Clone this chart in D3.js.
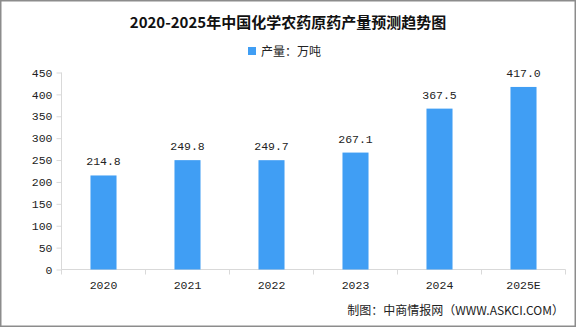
<!DOCTYPE html>
<html><head><meta charset="utf-8">
<script src="https://cdn.jsdelivr.net/npm/d3@7"></script>
<style>body{margin:0;background:#fff}svg{display:block}</style>
</head><body>
<script>
const categories = ["2020","2021","2022","2023","2024","2025E"];
const values = [214.8, 249.8, 249.7, 267.1, 367.5, 417.0];
const yTicks = [0,50,100,150,200,250,300,350,400,450];
const title = "2020-2025年中国化学农药原药产量预测趋势图";
const legendLabel = "产量：万吨";
const source = "制图：中商情报网（WWW.ASKCI.COM）";

const W = 576, H = 327;
const svg = d3.select("body").append("svg").attr("width", W).attr("height", H);
svg.append("rect").attr("x",0.75).attr("y",0.75).attr("width",W-1.5).attr("height",H-1.5)
  .attr("fill","#fff").attr("stroke","#8c8c8c").attr("stroke-width",1.5);

const x = d3.scaleBand().domain(categories).range([61.5, 565.5]).paddingInner(0.69).paddingOuter(0.345);
const y = d3.scaleLinear().domain([0,450]).range([269.5, 72.5]);
const cjk = "'Noto Sans CJK SC', 'Noto Sans', sans-serif";
const mono = "'Liberation Mono', 'DejaVu Sans Mono', monospace";

svg.append("text").attr("x", 288).attr("y", 28).attr("text-anchor","middle")
  .attr("font-family", cjk).attr("font-weight","bold").attr("font-size",15).attr("fill","#111").text(title);

svg.append("rect").attr("x",248).attr("y",47).attr("width",8).attr("height",8).attr("fill","#409EF4");
svg.append("text").attr("x",261).attr("y",55.5).attr("font-family",cjk).attr("font-size",12).attr("fill","#222").text(legendLabel);

// y axis
const yAxis = d3.axisLeft(y).tickValues(yTicks).tickSize(5).tickPadding(4);
const gy = svg.append("g").attr("transform","translate(61.5,0)").call(yAxis);
gy.select(".domain").attr("stroke","#d9d9d9").attr("d","M0,72.5V269.5");
gy.selectAll(".tick line").attr("stroke","#d9d9d9");
gy.selectAll(".tick text").attr("font-family",mono).attr("font-size",11.5).attr("fill","#222");

// x axis
const gx = svg.append("g").attr("transform","translate(0,269.5)");
gx.append("line").attr("x1",61.5).attr("x2",565.5).attr("stroke","#d9d9d9");
const step = x.step();
const bounds = d3.range(categories.length+1).map(i => x(categories[0]) - x.paddingOuter()*step + i*step);
gx.selectAll("line.t").data(bounds).join("line").attr("class","t")
  .attr("x1",d=>d).attr("x2",d=>d).attr("y1",0).attr("y2",5).attr("stroke","#d9d9d9");
gx.selectAll("text").data(categories).join("text")
  .attr("x",d=>x(d)+x.bandwidth()/2).attr("y",19).attr("text-anchor","middle")
  .attr("font-family",mono).attr("font-size",11.5).attr("fill","#222").text(d=>d);

// bars
svg.selectAll("rect.bar").data(values).join("rect").attr("class","bar")
  .attr("x",(d,i)=>x(categories[i])).attr("width",x.bandwidth())
  .attr("y",d=>y(d)).attr("height",d=>y(0)-y(d)).attr("fill","#409EF4");
svg.selectAll("text.val").data(values).join("text").attr("class","val")
  .attr("x",(d,i)=>x(categories[i])+x.bandwidth()/2).attr("y",d=>y(d)-10)
  .attr("text-anchor","middle").attr("font-family",mono).attr("font-size",11.5).attr("fill","#222")
  .text(d=>d.toFixed(1));

svg.append("text").attr("x",564).attr("y",315).attr("text-anchor","end")
  .attr("font-family",cjk).attr("font-size",12).attr("fill","#222").text(source);
</script>
</body></html>
